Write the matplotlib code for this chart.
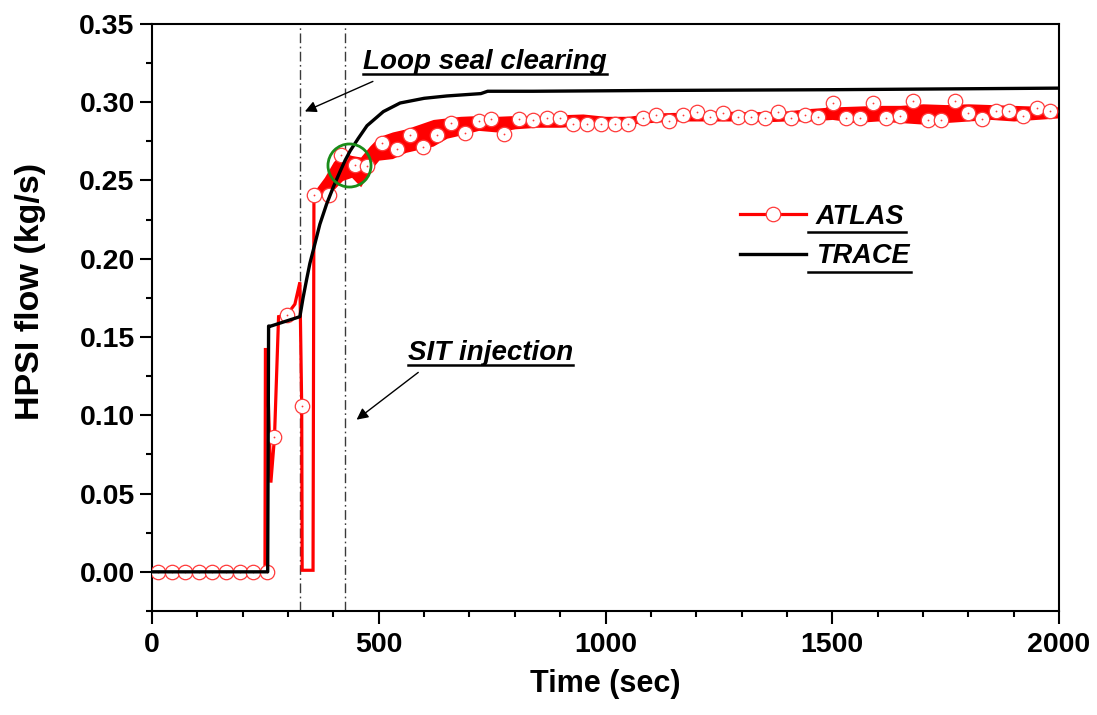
import matplotlib
matplotlib.use('Agg')
import matplotlib.pyplot as plt
from matplotlib.lines import Line2D
from matplotlib.ticker import MultipleLocator, FormatStrFormatter

# ---------------- data ----------------
# TRACE calculation
trace_t = [0, 255, 257, 262, 326, 333, 341, 348, 356, 370, 385, 400, 415, 426, 437,
           455, 474, 510, 547, 600, 650, 700, 725, 740, 840, 1100, 1500, 2000]
trace_v = [0.0, 0.0, 0.157, 0.157, 0.163, 0.175, 0.187, 0.197, 0.206, 0.222, 0.235,
           0.246, 0.256, 0.263, 0.269, 0.277, 0.285, 0.294, 0.2995, 0.3025, 0.304,
           0.305, 0.3055, 0.307, 0.307, 0.3075, 0.308, 0.309]

# ATLAS experiment: early (stepwise) part of the line, before the main rise
atlas_early_t = [0, 249, 250, 253, 262, 270, 279, 297, 315, 326, 330, 331, 355]
atlas_early_v = [0.0, 0.0, 0.142, 0.142, 0.057, 0.086, 0.163, 0.164, 0.171, 0.185,
                 0.106, 0.001, 0.001]

# ATLAS symbols
atlas_mk_t = [13, 43, 73, 103, 133, 163, 193, 223, 253, 270, 297, 330,
              357, 391, 416, 448, 473, 506, 540, 569, 598, 629, 659, 690, 720, 747,
              776, 810, 839, 870, 900, 929, 960, 989, 1021, 1050, 1082, 1111, 1141,
              1170, 1201, 1230, 1260, 1291, 1320, 1352, 1381, 1408, 1440, 1469, 1502,
              1530, 1560, 1589, 1618, 1649, 1679, 1710, 1739, 1771, 1800, 1831, 1861,
              1890, 1920, 1951, 1980]
atlas_mk_v = [0.0, 0.0, 0.0, 0.0, 0.0, 0.0, 0.0, 0.0, 0.0, 0.086, 0.164, 0.106,
              0.2406, 0.2406, 0.266, 0.260, 0.259, 0.274, 0.270, 0.279, 0.2716, 0.279,
              0.287, 0.2805, 0.288, 0.2895, 0.2794, 0.289, 0.2886, 0.290, 0.290,
              0.2858, 0.2864, 0.2858, 0.2864, 0.2858, 0.290, 0.292, 0.288, 0.292,
              0.2937, 0.2905, 0.2928, 0.2907, 0.2907, 0.290, 0.2937, 0.290, 0.292,
              0.2907, 0.2992, 0.290, 0.290, 0.2997, 0.290, 0.2911, 0.3007, 0.2886,
              0.2886, 0.3007, 0.2933, 0.289, 0.2946, 0.2946, 0.2911, 0.296, 0.2946]
atlas_rise_start = 357   # from here on the ATLAS line runs through the symbols

# ATLAS oscillation band (lower / upper envelope)
band_t = [357, 380, 400, 420, 440, 460, 480, 500, 530, 560, 590, 620, 650, 680, 720,
          760, 800, 850, 900, 950, 1000, 1050, 1100, 1150, 1200, 1250, 1300, 1350,
          1400, 1450, 1500, 1550, 1600, 1650, 1700, 1750, 1800, 1850, 1900, 1950, 2000]
band_lo = [0.238, 0.241, 0.244, 0.250, 0.252, 0.246, 0.256, 0.263, 0.264, 0.268,
           0.270, 0.272, 0.277, 0.279, 0.282, 0.281, 0.283, 0.284, 0.284, 0.285,
           0.284, 0.286, 0.287, 0.288, 0.288, 0.288, 0.288, 0.2875, 0.288, 0.288,
           0.289, 0.287, 0.288, 0.287, 0.286, 0.287, 0.288, 0.289, 0.288, 0.289, 0.290]
band_hi = [0.243, 0.252, 0.262, 0.268, 0.266, 0.265, 0.272, 0.278, 0.281, 0.283,
           0.286, 0.289, 0.290, 0.291, 0.2915, 0.291, 0.2915, 0.291, 0.292, 0.2925,
           0.291, 0.291, 0.293, 0.2935, 0.2935, 0.2945, 0.294, 0.294, 0.2945, 0.296,
           0.297, 0.2975, 0.298, 0.298, 0.299, 0.2985, 0.299, 0.2985, 0.298, 0.2975,
           0.297]

# event markers
event_times = [326, 426]
highlight_t, highlight_v = 434, 0.260

x_ticks = [0, 500, 1000, 1500, 2000]
y_ticks = [0.00, 0.05, 0.10, 0.15, 0.20, 0.25, 0.30, 0.35]

# ---------------- figure ----------------
plt.rcParams['font.family'] = ['Liberation Sans', 'DejaVu Sans']
plt.rcParams['font.weight'] = 'bold'

fig = plt.figure(figsize=(10.97, 7.15), dpi=100)
ax = fig.add_axes([0.1386, 0.1455, 0.8268, 0.8210])

RED = '#ff0000'
MK_RED = '#ff3a3a'

# event lines
for et in event_times:
    ax.axvline(et, color='#3a3a3a', lw=1.0, ls=(0, (7, 2.5, 1.2, 2.5)), zorder=1)

# ATLAS band + line + symbols
ax.fill_between(band_t, band_lo, band_hi, color=RED, lw=0, zorder=2)
i0 = atlas_mk_t.index(atlas_rise_start)
line_t = atlas_early_t + atlas_mk_t[i0:]
line_v = atlas_early_v + atlas_mk_v[i0:]
ax.plot(line_t, line_v, color=RED, lw=2.3, zorder=3, solid_joinstyle='miter')
ax.plot(atlas_mk_t, atlas_mk_v, ls='none', marker='o', ms=10.4, mfc='white',
        mec=MK_RED, mew=0.9, zorder=4)
ax.plot(atlas_mk_t, atlas_mk_v, ls='none', marker='o', ms=1.3, mfc=MK_RED,
        mec=MK_RED, mew=0, zorder=4)

# TRACE line
ax.plot(trace_t, trace_v, color='black', lw=2.4, zorder=5)

# highlight circle
ax.plot([highlight_t], [highlight_v], ls='none', marker='o', ms=31, mfc='none',
        mec='#1a8c1a', mew=2.0, zorder=6)

# axes
ax.set_xlim(0, 2000)
ax.set_ylim(-0.025, 0.35)
ax.set_xticks(x_ticks)
ax.set_yticks(y_ticks)
ax.xaxis.set_minor_locator(MultipleLocator(100))
ax.yaxis.set_minor_locator(MultipleLocator(0.025))
ax.yaxis.set_major_formatter(FormatStrFormatter('%.2f'))
ax.tick_params(which='major', direction='out', length=9, width=1.5,
               labelsize=20.5, pad=3.5)
ax.tick_params(axis='x', which='major', pad=6)
ax.tick_params(which='minor', direction='out', length=4, width=1.5)
for s in ax.spines.values():
    s.set_linewidth(1.5)
for lab in ax.get_xticklabels() + ax.get_yticklabels():
    lab.set_fontweight('bold')

ax.set_xlabel('Time (sec)', fontsize=22, fontweight='bold', labelpad=8)
ax.set_ylabel('HPSI flow (kg/s)', fontsize=24.5, fontweight='bold')
ax.yaxis.set_label_coords(-0.117, 0.545)

# annotations
ann_font = dict(fontsize=20, fontweight='bold', fontstyle='italic')
t1 = ax.text(465, 0.3215, 'Loop seal clearing', ha='left', va='baseline', **ann_font)
t2 = ax.text(564, 0.1355, 'SIT injection', ha='left', va='baseline', **ann_font)
ax.annotate('', xy=(337, 0.2941), xytext=(487, 0.3133),
            arrowprops=dict(arrowstyle='-|>', color='black', lw=1.0,
                            mutation_scale=17, shrinkA=0, shrinkB=0))
ax.annotate('', xy=(451, 0.0972), xytext=(587, 0.1274),
            arrowprops=dict(arrowstyle='-|>', color='black', lw=1.0,
                            mutation_scale=17, shrinkA=0, shrinkB=0))

# legend
h_atlas = Line2D([], [], color=RED, lw=2.3, marker='o', ms=10.4, mfc='white',
                 mec=MK_RED, mew=0.9)
h_trace = Line2D([], [], color='black', lw=2.4)
leg = fig.legend([h_atlas, h_trace], ['ATLAS', 'TRACE'], loc='upper left',
                 bbox_to_anchor=(0.6746, 0.715), frameon=False, borderpad=0,
                 borderaxespad=0, handlelength=2.45, handletextpad=0.35,
                 labelspacing=0.49,
                 prop=dict(family='Liberation Sans', size=19.5, weight='bold',
                           style='italic'))

# underlines under the italic labels
fig.canvas.draw()
renderer = fig.canvas.get_renderer()
W, H = fig.bbox.width, fig.bbox.height
def underline(txt, extend_left=0.0, extend_right=0.0, offset=1.0):
    bb = txt.get_window_extent(renderer)
    x0, x1 = bb.x0 - extend_left, bb.x1 + extend_right
    y = bb.y0 + offset
    fig.add_artist(Line2D([x0 / W, x1 / W], [y / H, y / H], color='black',
                          lw=1.8, transform=fig.transFigure))

underline(t1)
underline(t2)
for lt in leg.get_texts():
    underline(lt, extend_left=8, extend_right=2, offset=-2.5)

fig.savefig('out.png', dpi=100)
